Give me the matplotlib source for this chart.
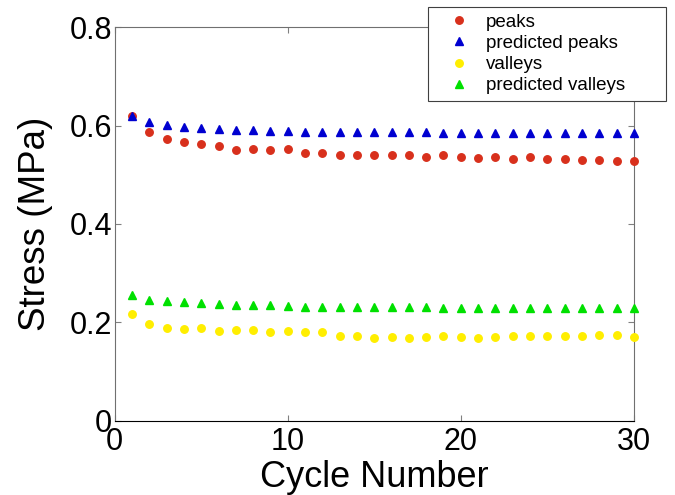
import matplotlib
matplotlib.use("Agg")
import matplotlib.pyplot as plt
import numpy as np

plt.rcParams['font.family'] = ['Liberation Sans', 'DejaVu Sans']

cycles = list(range(1, 31))
peaks = [0.619, 0.588, 0.574, 0.566, 0.563, 0.558, 0.550, 0.553, 0.550, 0.553,
         0.544, 0.544, 0.540, 0.540, 0.540, 0.540, 0.540, 0.536, 0.540, 0.536,
         0.534, 0.536, 0.532, 0.536, 0.532, 0.532, 0.530, 0.530, 0.528, 0.528]
pred_peaks = [0.619, 0.607, 0.601, 0.598, 0.596, 0.593, 0.592, 0.591, 0.589, 0.589,
              0.588, 0.588, 0.587, 0.587, 0.587, 0.587, 0.587, 0.587, 0.585, 0.585,
              0.585, 0.585, 0.585, 0.585, 0.585, 0.585, 0.585, 0.585, 0.585, 0.585]
valleys = [0.216, 0.196, 0.188, 0.187, 0.188, 0.183, 0.185, 0.185, 0.181, 0.183,
           0.180, 0.180, 0.173, 0.171, 0.168, 0.170, 0.168, 0.170, 0.171, 0.170,
           0.168, 0.170, 0.171, 0.173, 0.173, 0.173, 0.173, 0.175, 0.175, 0.170]
pred_valleys = [0.255, 0.246, 0.243, 0.242, 0.240, 0.238, 0.236, 0.236, 0.235, 0.234,
                0.232, 0.232, 0.231, 0.231, 0.231, 0.231, 0.231, 0.231, 0.228, 0.228,
                0.228, 0.228, 0.228, 0.228, 0.228, 0.228, 0.228, 0.228, 0.228, 0.228]

xticks = [0, 10, 20, 30]
yticks = [0, 0.2, 0.4, 0.6, 0.8]
ytick_labels = ['0', '0.2', '0.4', '0.6', '0.8']

fig = plt.figure(figsize=(6.75, 4.95), dpi=100)
ax = fig.add_axes([0.170, 0.1505, 0.769, 0.794])

ax.plot(cycles, peaks, 'o', color='#d8301c', markersize=5.4, label='peaks', clip_on=False, zorder=3)
ax.plot(cycles, pred_peaks, '^', color='#0000d0', markersize=6.2, label='predicted peaks', clip_on=False, zorder=3)
ax.plot(cycles, valleys, 'o', color='#ffee00', markersize=5.4, label='valleys', clip_on=False, zorder=3)
ax.plot(cycles, pred_valleys, '^', color='#00e000', markersize=6.2, label='predicted valleys', clip_on=False, zorder=3)

ax.set_xlim(0, 30)
ax.set_ylim(0, 0.8)
ax.set_xticks(xticks)
ax.set_xticklabels([str(t) for t in xticks])
ax.set_yticks(yticks)
ax.set_yticklabels(ytick_labels)
ax.tick_params(direction='in', length=4, width=0.8, color='#808080',
               top=True, right=True, labelsize=22, pad=2)
ax.tick_params(axis='x', pad=5)
for s in ['left', 'right', 'top']:
    ax.spines[s].set_color('#707070')
ax.spines['bottom'].set_color('#000000')

ax.set_xlabel('Cycle Number', fontsize=26, labelpad=2)
ax.set_ylabel('Stress (MPa)', fontsize=26.5, labelpad=12)

leg = ax.legend(loc='upper left',
                bbox_to_anchor=(428/675, 1 - 7/495 - 0.01, 238/675, 0.01),
                bbox_transform=fig.transFigure, mode='expand',
                fontsize=13.5, frameon=True,
                fancybox=False, edgecolor='#404040', framealpha=1,
                borderpad=0.35, labelspacing=0.22, handletextpad=0.15,
                handlelength=2.6, borderaxespad=0)
leg.get_frame().set_linewidth(0.8)

fig.savefig('out.png', dpi=100)
